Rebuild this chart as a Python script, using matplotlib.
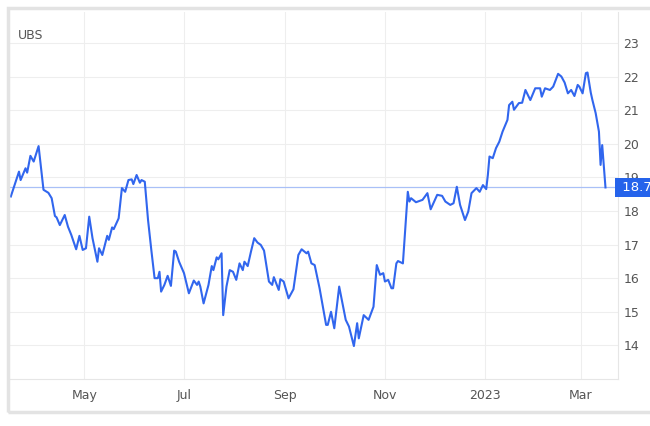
import numpy as np
import pandas as pd
import matplotlib
matplotlib.use("Agg")
import matplotlib.pyplot as plt
from matplotlib.patches import Rectangle

# UBS share price
dates = [
    "2022-03-17", "2022-03-22", "2022-03-23", "2022-03-26", "2022-03-27", "2022-03-29",
    "2022-03-31", "2022-04-03", "2022-04-06", "2022-04-09", "2022-04-11", "2022-04-13",
    "2022-04-14", "2022-04-16", "2022-04-19", "2022-04-21", "2022-04-23", "2022-04-26",
    "2022-04-28", "2022-04-30", "2022-05-02", "2022-05-04", "2022-05-06", "2022-05-09",
    "2022-05-10", "2022-05-12", "2022-05-15", "2022-05-16", "2022-05-18", "2022-05-19",
    "2022-05-22", "2022-05-24", "2022-05-26", "2022-05-28", "2022-05-30", "2022-05-31",
    "2022-06-02", "2022-06-04", "2022-06-05", "2022-06-07", "2022-06-09", "2022-06-11",
    "2022-06-13", "2022-06-15", "2022-06-16", "2022-06-17", "2022-06-19", "2022-06-21",
    "2022-06-23", "2022-06-25", "2022-06-26", "2022-06-28", "2022-07-01", "2022-07-04",
    "2022-07-07", "2022-07-09", "2022-07-10", "2022-07-11", "2022-07-13", "2022-07-16",
    "2022-07-18", "2022-07-19", "2022-07-21", "2022-07-22", "2022-07-24", "2022-07-25",
    "2022-07-27", "2022-07-29", "2022-07-31", "2022-08-02", "2022-08-04", "2022-08-06",
    "2022-08-07", "2022-08-09", "2022-08-11", "2022-08-13", "2022-08-15", "2022-08-17",
    "2022-08-19", "2022-08-22", "2022-08-24", "2022-08-25", "2022-08-28", "2022-08-29",
    "2022-08-31", "2022-09-03", "2022-09-06", "2022-09-09", "2022-09-11", "2022-09-14",
    "2022-09-15", "2022-09-17", "2022-09-19", "2022-09-22", "2022-09-26", "2022-09-27",
    "2022-09-29", "2022-10-01", "2022-10-04", "2022-10-08", "2022-10-10", "2022-10-13",
    "2022-10-15", "2022-10-16", "2022-10-19", "2022-10-22", "2022-10-25", "2022-10-27",
    "2022-10-29", "2022-10-31", "2022-11-01", "2022-11-03", "2022-11-05", "2022-11-06",
    "2022-11-08", "2022-11-09", "2022-11-12", "2022-11-15", "2022-11-16", "2022-11-17",
    "2022-11-20", "2022-11-24", "2022-11-27", "2022-11-29", "2022-12-03", "2022-12-06",
    "2022-12-08", "2022-12-11", "2022-12-13", "2022-12-15", "2022-12-17", "2022-12-20",
    "2022-12-22", "2022-12-24", "2022-12-27", "2022-12-29", "2022-12-31", "2023-01-02",
    "2023-01-03", "2023-01-04", "2023-01-06", "2023-01-08", "2023-01-10", "2023-01-12",
    "2023-01-15", "2023-01-16", "2023-01-18", "2023-01-19", "2023-01-22", "2023-01-24",
    "2023-01-26", "2023-01-29", "2023-02-01", "2023-02-04", "2023-02-05", "2023-02-07",
    "2023-02-10", "2023-02-12", "2023-02-15", "2023-02-17", "2023-02-19", "2023-02-21",
    "2023-02-23", "2023-02-25", "2023-02-27", "2023-02-28", "2023-03-02", "2023-03-04",
    "2023-03-05", "2023-03-07", "2023-03-08", "2023-03-10", "2023-03-12", "2023-03-13",
    "2023-03-14", "2023-03-16",
]
prices = [
    18.43, 19.17, 18.92, 19.27, 19.14, 19.64,
    19.47, 19.93, 18.63, 18.54, 18.38, 17.85,
    17.81, 17.58, 17.88, 17.53, 17.29, 16.86,
    17.26, 16.84, 16.89, 17.83, 17.19, 16.49,
    16.89, 16.69, 17.26, 17.14, 17.51, 17.46,
    17.78, 18.68, 18.57, 18.92, 18.94, 18.80,
    19.07, 18.84, 18.92, 18.87, 17.73, 16.84,
    16.00, 16.00, 16.19, 15.60, 15.80, 16.07,
    15.77, 16.82, 16.79, 16.49, 16.15, 15.55,
    15.93, 15.80, 15.90, 15.75, 15.25, 15.80,
    16.36, 16.24, 16.62, 16.56, 16.74, 14.90,
    15.75, 16.24, 16.19, 15.95, 16.44, 16.24,
    16.49, 16.36, 16.79, 17.19, 17.06, 16.99,
    16.82, 15.90, 15.80, 16.03, 15.65, 15.97,
    15.90, 15.40, 15.67, 16.69, 16.86, 16.74,
    16.79, 16.44, 16.39, 15.70, 14.61, 14.61,
    15.00, 14.51, 15.75, 14.76, 14.56, 13.98,
    14.66, 14.21, 14.90, 14.76, 15.15, 16.39,
    16.10, 16.15, 15.90, 15.95, 15.70, 15.70,
    16.44, 16.51, 16.44, 18.57, 18.28, 18.38,
    18.26, 18.33, 18.53, 18.05, 18.48, 18.45,
    18.28, 18.18, 18.23, 18.72, 18.18, 17.73,
    17.98, 18.53, 18.68, 18.57, 18.77, 18.65,
    19.07, 19.62, 19.57, 19.87, 20.06, 20.36,
    20.71, 21.15, 21.25, 21.01, 21.21, 21.22,
    21.60, 21.30, 21.65, 21.65, 21.40, 21.65,
    21.60, 21.70, 22.08, 22.00, 21.82, 21.50,
    21.60, 21.42, 21.75, 21.70, 21.50, 22.10,
    22.12, 21.52, 21.30, 20.91, 20.36, 19.37,
    19.96, 18.70,
]
last_price = 18.7
yticks = [14, 15, 16, 17, 18, 19, 20, 21, 22, 23]
xtick_dates = ["2022-05-01", "2022-07-01", "2022-09-01", "2022-11-01", "2023-01-01", "2023-03-01"]
xtick_labels = ["May", "Jul", "Sep", "Nov", "2023", "Mar"]

dates = pd.to_datetime(dates)

fig = plt.figure(figsize=(6.5, 4.26), dpi=100)
fig.patch.set_facecolor("white")

# card frame (its right edge runs off the picture)
fig.patches.append(Rectangle((8 / 650, 1 - 412 / 426), 660 / 650, 404 / 426,
                             transform=fig.transFigure, facecolor="none",
                             edgecolor="#e3e3e3", linewidth=2.5, zorder=0))

ax = fig.add_axes([10 / 650, 47 / 426, 608 / 650, 367 / 426])
ax.plot(dates, prices, color="#3166ee", linewidth=1.5, zorder=3)

ax.set_xlim(pd.Timestamp("2022-03-16 12:00"), pd.Timestamp("2023-03-23 16:00"))
ax.set_ylim(13.0, 23.92)

ax.yaxis.tick_right()
ax.set_yticks(yticks)
ax.set_xticks(pd.to_datetime(xtick_dates))
ax.set_xticklabels(xtick_labels)
ax.tick_params(axis="both", length=0, labelsize=9, colors="#555555")
ax.tick_params(axis="x", pad=7)
ax.tick_params(axis="y", pad=4)

ax.grid(True, color="#eeeeee", linewidth=0.8, zorder=0)
for s in ["top", "left"]:
    ax.spines[s].set_visible(False)
ax.spines["bottom"].set_color("#e6e6e6")
ax.spines["right"].set_color("#e6e6e6")

# white patch hiding the top gridline behind the title
ax.add_patch(Rectangle((0, 0.88), 0.41, 0.12, transform=ax.transAxes,
                       facecolor="white", edgecolor="none", zorder=1))

ax.axhline(last_price, color="#a9c0f7", linewidth=0.9, zorder=2)
ax.text(1.0, last_price, " %.1f  " % last_price, transform=ax.get_yaxis_transform(),
        ha="left", va="center", fontsize=9.5, color="white", clip_on=False,
        bbox=dict(boxstyle="square,pad=0.25", facecolor="#2563eb", edgecolor="none"), zorder=5)

ax.text(0.013, 0.935, "UBS", transform=ax.transAxes, fontsize=9, color="#555555",
        ha="left", va="center", zorder=4)

fig.savefig("out.png", dpi=100)
